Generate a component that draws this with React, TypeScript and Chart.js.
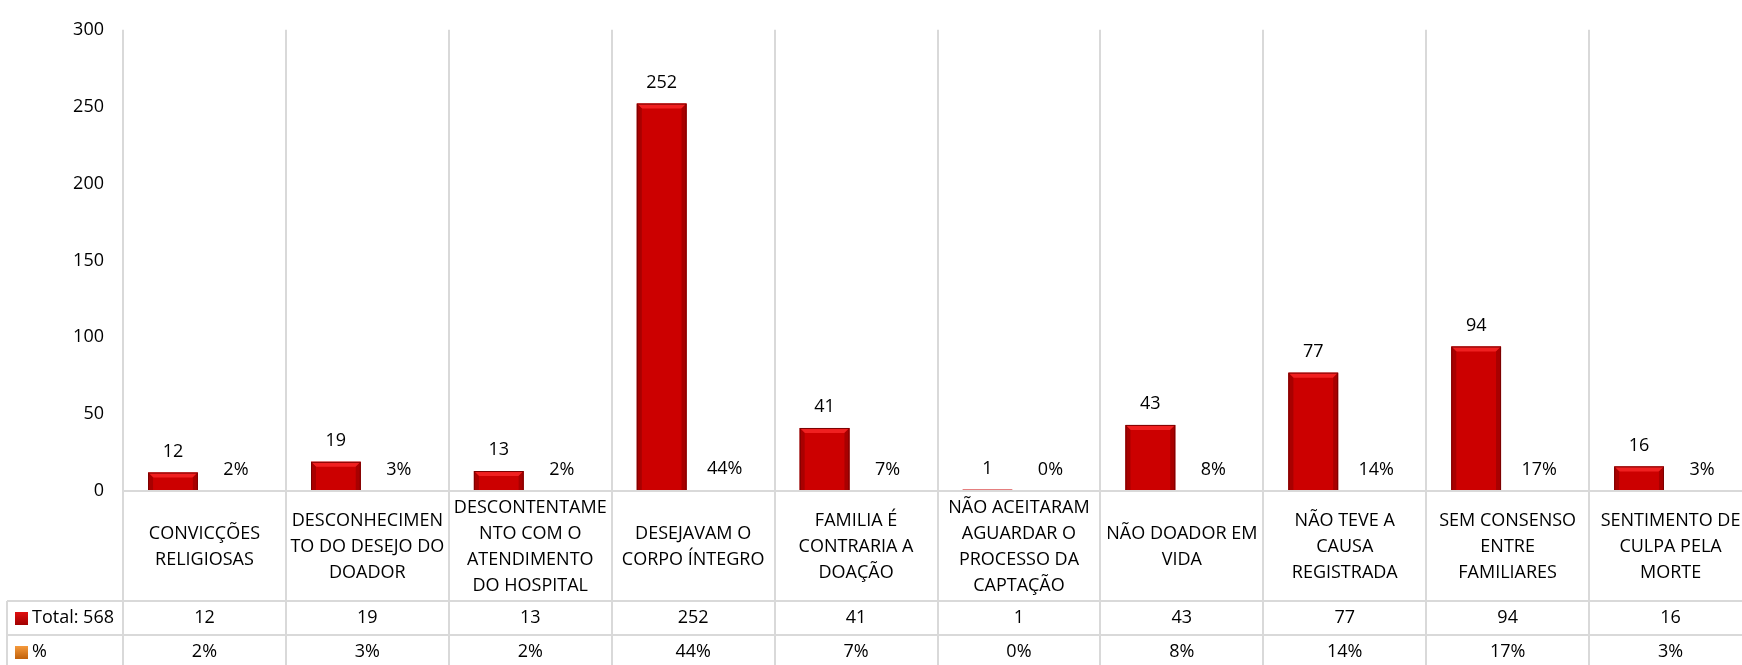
import React, { useEffect, useRef } from "react";
import { Chart, registerables } from "chart.js";

Chart.register(...registerables);

const categoryLines: string[][] = [
  ["CONVICÇÕES", "RELIGIOSAS"],
  ["DESCONHECIMEN", "TO DO DESEJO DO", "DOADOR"],
  ["DESCONTENTAME", "NTO COM O", "ATENDIMENTO", "DO HOSPITAL"],
  ["DESEJAVAM O", "CORPO ÍNTEGRO"],
  ["FAMILIA É", "CONTRARIA A", "DOAÇÃO"],
  ["NÃO ACEITARAM", "AGUARDAR O", "PROCESSO DA", "CAPTAÇÃO"],
  ["NÃO DOADOR EM", "VIDA"],
  ["NÃO TEVE A", "CAUSA", "REGISTRADA"],
  ["SEM CONSENSO", "ENTRE", "FAMILIARES"],
  ["SENTIMENTO DE", "CULPA PELA", "MORTE"],
];
const categories: string[] = categoryLines.map((l) => l.join(" "));
const totalValues: number[] = [12, 19, 13, 252, 41, 1, 43, 77, 94, 16];
const pctValues: number[] = [2, 3, 2, 44, 7, 0, 8, 14, 17, 3];
const totalLabel = "Total: 568";
const pctLabel = "%";
const yTicks = { min: 0, max: 300, step: 50 };

const FONT = "'Open Sans', sans-serif";
const FONT_SIZE = 18;

const CANVAS_W = 1760;
const CANVAS_H = 665;

const tablePlugin = {
  id: "tablePlugin",
  afterDatasetsDraw(chart: any) {
    const ctx = chart.ctx as CanvasRenderingContext2D;
    const area = chart.chartArea;
    const xScale = chart.scales.x;
    const n = categories.length;
    const catW = (area.right - area.left) / n;
    const axisY = area.bottom;
    const row1 = axisY + 110;
    const row2 = row1 + 34;
    const bottom = CANVAS_H + 5;
    const legendLeft = 7;

    ctx.save();
    // bevel on red bars
    const meta0 = chart.getDatasetMeta(0);
    meta0.data.forEach((el: any) => {
      const h = el.base - el.y;
      if (h < 3) return;
      const l = el.x - el.width / 2;
      const r = el.x + el.width / 2;
      const t = el.y;
      const b = el.base;
      const d = Math.min(5, h / 2);
      // top bevel
      ctx.fillStyle = "#f02020";
      ctx.beginPath();
      ctx.moveTo(l, t);
      ctx.lineTo(r, t);
      ctx.lineTo(r - d, t + d);
      ctx.lineTo(l + d, t + d);
      ctx.closePath();
      ctx.fill();
      // sides
      ctx.fillStyle = "#a80000";
      ctx.beginPath();
      ctx.moveTo(l, t);
      ctx.lineTo(l + d, t + d);
      ctx.lineTo(l + d, b);
      ctx.lineTo(l, b);
      ctx.closePath();
      ctx.fill();
      ctx.beginPath();
      ctx.moveTo(r, t);
      ctx.lineTo(r - d, t + d);
      ctx.lineTo(r - d, b);
      ctx.lineTo(r, b);
      ctx.closePath();
      ctx.fill();
      ctx.strokeStyle = "#7a0000";
      ctx.lineWidth = 1;
      ctx.strokeRect(l + 0.5, t + 0.5, r - l - 1, b - t - 1);
    });

    // data labels
    ctx.font = `${FONT_SIZE}px ${FONT}`;
    ctx.fillStyle = "#000";
    ctx.textAlign = "center";
    ctx.textBaseline = "middle";
    chart.data.datasets.forEach((ds: any, di: number) => {
      const meta = chart.getDatasetMeta(di);
      meta.data.forEach((el: any, i: number) => {
        const txt = di === 0 ? String(totalValues[i]) : `${pctValues[i]}%`;
        ctx.fillText(txt, el.x, el.y - 21);
      });
    });

    // table lines
    ctx.strokeStyle = "#d9d9d9";
    ctx.lineWidth = 2;
    ctx.beginPath();
    ctx.moveTo(area.left, axisY);
    ctx.lineTo(CANVAS_W, axisY);
    ctx.stroke();

    ctx.beginPath();
    ctx.moveTo(legendLeft, row1);
    ctx.lineTo(CANVAS_W, row1);
    ctx.moveTo(legendLeft, row2);
    ctx.lineTo(CANVAS_W, row2);
    ctx.moveTo(legendLeft, row1);
    ctx.lineTo(legendLeft, bottom);
    for (let i = 0; i <= n; i++) {
      const x = Math.round(area.left + i * catW);
      ctx.moveTo(x, axisY);
      ctx.lineTo(x, bottom);
    }
    ctx.stroke();

    // category labels
    ctx.fillStyle = "#000";
    ctx.font = `${FONT_SIZE}px ${FONT}`;
    const lineH = 26;
    const catMid = (axisY + row1) / 2 + 1;
    categoryLines.forEach((lines, i) => {
      const cx = xScale.getPixelForValue(i);
      const startY = catMid - ((lines.length - 1) * lineH) / 2;
      lines.forEach((ln, j) => ctx.fillText(ln, cx, startY + j * lineH));
    });

    // row values
    const r1Mid = (row1 + row2) / 2;
    const r2Mid = row2 + 17;
    totalValues.forEach((v, i) => {
      const cx = xScale.getPixelForValue(i);
      ctx.fillText(String(v), cx, r1Mid);
      ctx.fillText(`${pctValues[i]}%`, cx, r2Mid);
    });

    // legend keys
    const drawKey = (y: number, c1: string, c2: string) => {
      const g = ctx.createLinearGradient(0, y - 6, 0, y + 7);
      g.addColorStop(0, c1);
      g.addColorStop(1, c2);
      ctx.fillStyle = g;
      ctx.fillRect(15, y - 6, 13, 13);
    };
    drawKey(r1Mid, "#e01010", "#a00000");
    drawKey(r2Mid, "#f59a3c", "#c0600a");
    ctx.fillStyle = "#000";
    ctx.textAlign = "left";
    ctx.fillText(totalLabel, 32, r1Mid);
    ctx.fillText(pctLabel, 32, r2Mid);
    ctx.restore();
  },
};

export default function App() {
  const ref = useRef<HTMLCanvasElement | null>(null);
  useEffect(() => {
    if (!ref.current) return;
    const chart = new Chart(ref.current, {
      type: "bar",
      data: {
        labels: categories,
        datasets: [
          {
            label: totalLabel,
            data: totalValues,
            backgroundColor: "#cc0000",
            borderWidth: 0,
            categoryPercentage: 0.773,
            barPercentage: 0.79,
          },
          {
            label: pctLabel,
            data: pctValues.map((p) => p / 100),
            backgroundColor: "#e46c0a",
            borderWidth: 0,
            categoryPercentage: 0.773,
            barPercentage: 0.79,
          },
        ],
      },
      options: {
        responsive: false,
        animation: false,
        devicePixelRatio: 1,
        layout: { padding: { top: 22, right: CANVAS_W - 1752, left: 0, bottom: 0 } },
        plugins: {
          legend: { display: false },
          tooltip: { enabled: false },
          title: { display: false },
        },
        scales: {
          x: {
            offset: true,
            grid: { color: "#d9d9d9", lineWidth: 2, offset: true, drawTicks: false },
            border: { display: false },
            ticks: { display: false },
            afterFit: (s: any) => {
              s.height = CANVAS_H - 491;
            },
          },
          y: {
            min: yTicks.min,
            max: yTicks.max,
            ticks: {
              stepSize: yTicks.step,
              color: "#000",
              padding: 19,
              font: { family: FONT, size: FONT_SIZE },
            },
            grid: { display: false, drawTicks: false },
            border: { display: false },
            afterFit: (s: any) => {
              s.width = 123;
            },
          },
        },
      },
      plugins: [tablePlugin],
    });
    return () => chart.destroy();
  }, []);
  return (
    <div
      style={{
        position: "fixed",
        left: 0,
        top: 0,
        width: 1742,
        height: 665,
        overflow: "hidden",
        background: "#fff",
      }}
    >
      <canvas ref={ref} width={CANVAS_W} height={CANVAS_H} style={{ display: "block" }} />
    </div>
  );
}
